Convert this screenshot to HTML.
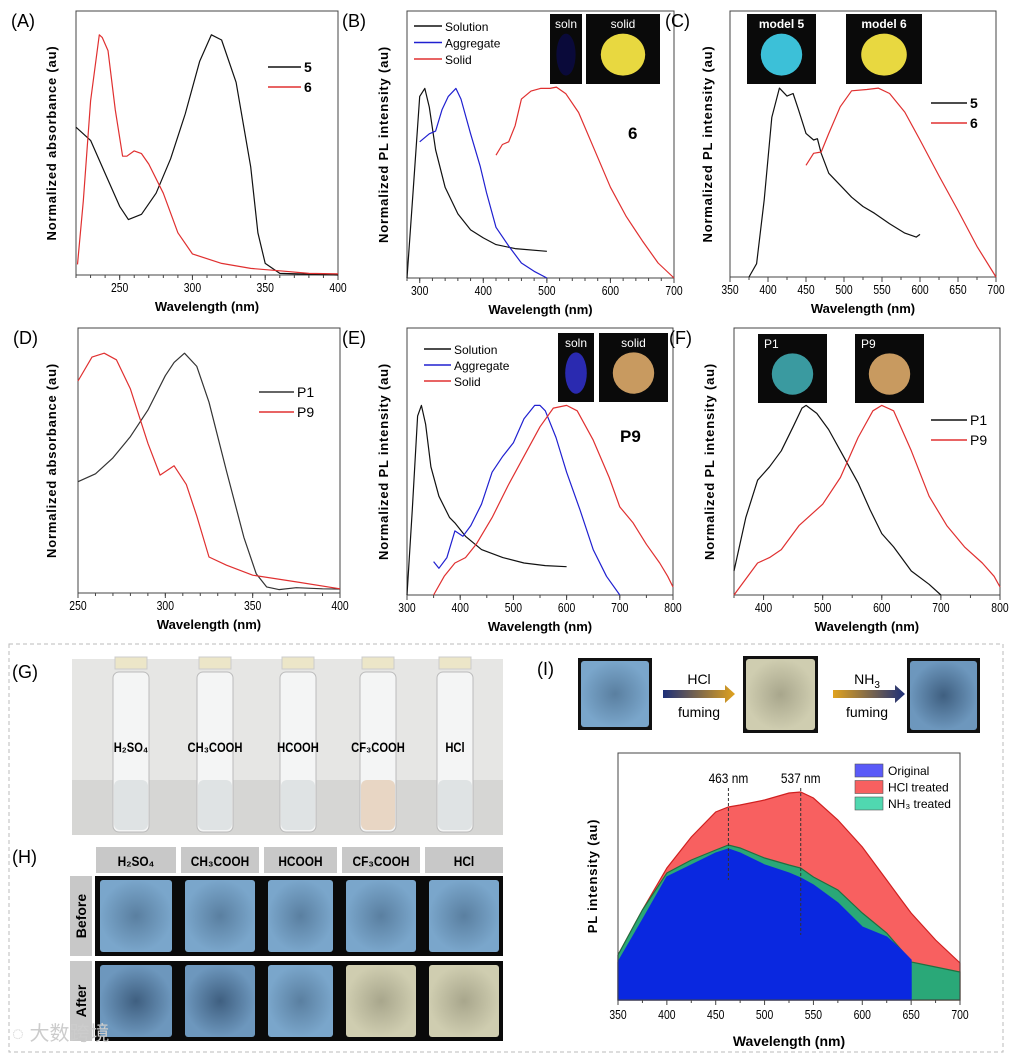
<!DOCTYPE html>
<html><head><meta charset="utf-8"><style>
body{margin:0;background:#fff}
svg{display:block;font-family:"Liberation Sans",sans-serif}
</style></head><body>
<svg id="fig" width="1011" height="1054" viewBox="0 0 1011 1054" xmlns="http://www.w3.org/2000/svg">
<defs>
<linearGradient id="arr1" x1="0" x2="1"><stop offset="0" stop-color="#1d2f78"/><stop offset="1" stop-color="#e0a21e"/></linearGradient>
<linearGradient id="arr2" x1="0" x2="1"><stop offset="0" stop-color="#e0a21e"/><stop offset="1" stop-color="#1d2f78"/></linearGradient>
<radialGradient id="tileBlue"><stop offset="0" stop-color="#5a7fa0"/><stop offset="1" stop-color="#7aa6cb"/></radialGradient>
<radialGradient id="tileYel"><stop offset="0" stop-color="#a8a68c"/><stop offset="1" stop-color="#cfcdb0"/></radialGradient>
<radialGradient id="tileDark"><stop offset="0" stop-color="#3f5f80"/><stop offset="1" stop-color="#6d97bd"/></radialGradient>
</defs>
<g id="charts"></g>
<!-- bottom section -->
<rect x="9" y="644" width="994" height="408" fill="none" stroke="#bbb" stroke-dasharray="4,3"/>
<text x="12" y="678" font-size="18">(G)</text>
<g>
<rect x="72" y="659" width="431" height="176" fill="#e6e6e4"/>
<rect x="72" y="780" width="431" height="55" fill="#d6d6d4"/>
</g>
<g id="vials"></g>
<text x="12" y="863" font-size="18">(H)</text>
<g id="hgrid"></g>
<text x="537" y="675" font-size="18">(I)</text>
<rect x="578" y="658" width="74" height="72" fill="#111"/>
<rect x="581" y="661" width="68" height="66" rx="3" fill="url(#tileBlue)"/>
<rect x="743" y="656" width="75" height="77" fill="#111"/>
<rect x="746" y="659" width="69" height="71" rx="3" fill="url(#tileYel)"/>
<rect x="907" y="658" width="73" height="75" fill="#111"/>
<rect x="910" y="661" width="67" height="69" rx="3" fill="url(#tileDark)"/>
<polygon points="663,690 725,690 725,685 735,694 725,703 725,698 663,698" fill="url(#arr1)"/>
<polygon points="833,690 895,690 895,685 905,694 895,703 895,698 833,698" fill="url(#arr2)"/>
<text x="699" y="684" font-size="14" text-anchor="middle">HCl</text>
<text x="699" y="717" font-size="14" text-anchor="middle">fuming</text>
<text x="867" y="684" font-size="14" text-anchor="middle">NH<tspan font-size="10" dy="4">3</tspan></text>
<text x="867" y="717" font-size="14" text-anchor="middle">fuming</text>
<g id="chartI"></g>
<text x="12" y="1040" font-size="20" fill="#ccc" font-family="'Liberation Sans','Noto Sans CJK SC',sans-serif">◌ 大数跨境</text>
</svg>
<script>
// ---------- data: line charts ----------
const aX5=[220,230,240,250,256,265,275,285,295,305,313,320,330,340,345,350,360,400];
const aY5=[.56,.51,.385,.26,.21,.23,.31,.44,.61,.81,.91,.89,.73,.41,.16,.044,.006,0];
const aX6=[221,225,230,236,238,242,247,252,255,260,265,270,280,290,300,320,340,360,380,400];
const aY6=[.04,.28,.66,.91,.9,.85,.625,.45,.45,.47,.46,.42,.31,.16,.08,.044,.025,.016,.006,.004];
const bXs=[280,290,300,308,315,325,340,360,380,400,420,450,500];
const bYs=[0,.34,.68,.71,.64,.48,.34,.24,.18,.15,.125,.11,.10];
const bXa=[300,315,325,335,345,357,365,380,395,405,420,440,460,480,500];
const bYa=[.51,.54,.55,.63,.68,.71,.67,.54,.42,.32,.19,.12,.056,.025,0];
const bXd=[420,430,440,450,460,475,490,505,515,530,550,575,600,625,650,675,700];
const bYd=[.46,.50,.51,.57,.67,.70,.71,.71,.715,.69,.62,.48,.34,.23,.14,.056,0];
const cX5=[375,385,395,405,415,425,433,440,450,460,465,470,480,500,510,525,540,560,580,595,600];
const cY5=[0,.05,.29,.6,.71,.68,.69,.63,.54,.515,.52,.465,.39,.33,.30,.265,.24,.2,.165,.15,.16];
const cX6=[450,460,470,480,495,510,530,545,560,580,600,625,650,675,700];
const cY6=[.42,.465,.47,.54,.64,.70,.705,.71,.69,.62,.515,.38,.25,.115,0];
const dX1=[250,260,270,280,290,300,305,311,318,325,335,345,352,358,365,375,390,400];
const dY1=[.42,.45,.51,.59,.69,.82,.87,.905,.855,.72,.46,.21,.073,.023,.013,.02,.016,.015];
const dX9=[250,258,265,272,280,290,297,305,312,318,325,335,350,375,400];
const dY9=[.80,.89,.905,.88,.77,.565,.445,.48,.41,.29,.136,.105,.067,.042,.016];
const eXs=[300,310,320,327,335,345,360,380,390,410,440,480,520,560,600];
const eYs=[0,.32,.67,.71,.64,.48,.37,.29,.27,.22,.17,.14,.12,.11,.106];
const eXa=[350,360,375,390,405,420,440,460,480,500,520,540,550,560,580,600,625,650,675,700];
const eYa=[.125,.1,.14,.24,.22,.26,.34,.46,.52,.57,.66,.71,.71,.69,.59,.46,.32,.17,.07,0];
const eXd=[350,370,390,410,430,460,490,520,550,575,600,620,650,680,700,725,750,775,790,800];
const eYd=[0,.07,.12,.14,.19,.29,.41,.52,.63,.70,.71,.69,.58,.44,.33,.27,.19,.12,.07,.03];
const fX1=[350,370,390,410,430,450,465,472,490,510,530,560,580,600,620,650,680,700];
const fY1=[.09,.29,.43,.48,.54,.63,.70,.71,.68,.62,.54,.42,.32,.23,.18,.09,.04,0];
const fX9=[350,370,390,410,430,460,500,530,560,585,600,620,650,680,710,740,770,790,800];
const fY9=[0,.06,.12,.14,.17,.26,.34,.44,.59,.69,.71,.69,.54,.37,.26,.18,.12,.07,.03];
// ---------- data: chart I ----------
const iXred=[350,375,400,425,450,463,475,500,525,537,550,575,600,625,640,650,675,700];
const iYred=[45,90,132,163,188,193,195,200,207,208,202,180,153,120,100,87,60,37];
const iXgreen=[350,375,400,425,450,463,475,500,525,537,550,575,600,625,640,650,675,700];
const iYgreen=[45,90,127,140,150,155,152,142,135,132,123,110,87,67,50,38,33,28];
const iXblue=[350,375,400,425,450,463,475,500,525,537,550,575,600,625,640,650];
const iYblue=[38,80,123,135,147,151,147,135,127,122,115,97,73,63,50,40];
const iTicks=[350,400,450,500,550,600,650,700];
const iPeaks=[463,537];

const NS='http://www.w3.org/2000/svg';
function mk(parent,tag,attrs){const e=document.createElementNS(NS,tag);for(const k in attrs)e.setAttribute(k,attrs[k]);parent.appendChild(e);return e;}
const G=document.getElementById('charts');

function chart(o){
  const g=mk(G,'g',{});
  
  
  const sx=v=>o.x0+(v-o.d0)/(o.d1-o.d0)*(o.x1-o.x0);
  const sy=f=>o.y1-f*(o.y1-o.y0);
  const box=mk(g,'rect',{x:o.x0,y:o.y0,width:o.x1-o.x0,height:o.y1-o.y0,fill:'none',stroke:'#444','stroke-width':1});
  
  
  for(let v=o.d0;v<=o.d1+0.01;v+=o.minor){
    const X=sx(v);mk(g,'line',{x1:X,x2:X,y1:o.y1,y2:o.y1+3,stroke:'#444'});
  }
  o.ticks.forEach(t=>{
    const X=sx(t);mk(g,'line',{x1:X,x2:X,y1:o.y1,y2:o.y1+5,stroke:'#444'});
    const tx=mk(g,'text',{x:X,y:o.y1+17,'font-size':13,'text-anchor':'middle',transform:`translate(${X},0) scale(0.8,1) translate(${-X},0)`});
    tx.textContent=t;
    
    
  });
  const xt=mk(g,'text',{x:(o.x0+o.x1)/2,y:o.y1+36,'font-size':13,'font-weight':'bold','text-anchor':'middle'});
  xt.textContent='Wavelength (nm)';
  
  
  const yc=(o.y0+o.y1)/2;
  const yt=mk(g,'text',{x:o.yx,y:yc,'font-size':13,'font-weight':'bold','text-anchor':'middle','letter-spacing':'0.8',transform:`rotate(-90 ${o.yx} ${yc})`});
  yt.textContent=o.ytitle;
  
  
  const lb=mk(g,'text',{x:o.x0-65,y:o.y0+16,'font-size':18});
  lb.textContent=o.label;
  
  
  o.series.forEach(s=>{
    const d=s.xs.map((x,i)=>(i?'L':'M')+sx(x).toFixed(1)+','+sy(s.ys[i]).toFixed(1)).join('');
    const p=mk(g,'path',{d:d,fill:'none',stroke:s.c,'stroke-width':1.2,'stroke-linejoin':'round'});
    
    
  });
  o.legend.forEach((l,i)=>{
    const y=o.ly+i*o.lstep;
    mk(g,'line',{x1:o.lx,x2:o.lx+o.lw,y1:y,y2:y,stroke:l.c,'stroke-width':1.5});
    const t=mk(g,'text',{x:o.lx+o.lw+3,y:y+5,'font-size':o.lfs,'font-weight':l.b?'bold':'normal'});
    t.textContent=l.t;
    
    
  });
  (o.insets||[]).forEach(r=>{
    const rr=mk(g,'rect',{x:r[0],y:r[1],width:r[2],height:r[3],fill:'#0a0a0a'});
    
    
    if(r[4]){mk(g,'ellipse',{cx:r[0]+r[2]/2,cy:r[1]+r[3]*0.58,rx:r[2]*0.3,ry:r[3]*0.3,fill:r[4]});}
    if(r[5]){const t=mk(g,'text',{x:r[0]+(r[6]||r[2]/2),y:r[1]+14,'font-size':12,'font-weight':r[7]?'bold':'normal',fill:'#fff','text-anchor':r[6]?'start':'middle'});t.textContent=r[5];}
  });
  if(o.tag){const t=mk(g,'text',{x:o.tag[0],y:o.tag[1],'font-size':17,'font-weight':'bold'});t.textContent=o.tag[2];
    
    }
}
const K='#111',R='#e03030',B='#2020d0';
chart({name:'chart-a',label:'(A)',x0:76,x1:338,y0:11,y1:275,d0:220,d1:400,ticks:[250,300,350,400],minor:10,yx:56,ytitle:'Normalized absorbance (au)',
 series:[{n:'5',xs:aX5,ys:aY5,c:K},{n:'6',xs:aX6,ys:aY6,c:R}],legend:[{t:'5',c:K,b:1},{t:'6',c:R,b:1}],lx:268,lw:33,ly:67,lstep:20,lfs:14});
chart({name:'chart-b',label:'(B)',x0:407,x1:674,y0:11,y1:278,d0:280,d1:700,ticks:[300,400,500,600,700],minor:20,yx:388,ytitle:'Normalized PL intensity (au)',
 series:[{n:'solution',xs:bXs,ys:bYs,c:K},{n:'aggregate',xs:bXa,ys:bYa,c:B},{n:'solid',xs:bXd,ys:bYd,c:R}],
 legend:[{t:'Solution',c:K},{t:'Aggregate',c:B},{t:'Solid',c:R}],lx:414,lw:28,ly:26,lstep:16.5,lfs:12,
 insets:[[550,14,32,70,'#0a0a3a','soln'],[586,14,74,70,'#e8d840','solid']],tag:[628,139,'6']});
chart({name:'chart-c',label:'(C)',x0:730,x1:996,y0:11,y1:277,d0:350,d1:700,ticks:[350,400,450,500,550,600,650,700],minor:25,yx:712,ytitle:'Normalized PL intensity (au)',
 series:[{n:'5',xs:cX5,ys:cY5,c:K},{n:'6',xs:cX6,ys:cY6,c:R}],legend:[{t:'5',c:K,b:1},{t:'6',c:R,b:1}],lx:931,lw:36,ly:103,lstep:20,lfs:14,
 insets:[[747,14,69,70,'#3cc0d8','model 5',0,1],[846,14,76,70,'#e8d840','model 6',0,1]]});
chart({name:'chart-d',label:'(D)',x0:78,x1:340,y0:328,y1:593,d0:250,d1:400,ticks:[250,300,350,400],minor:10,yx:56,ytitle:'Normalized absorbance (au)',
 series:[{n:'p1',xs:dX1,ys:dY1,c:'#333'},{n:'p9',xs:dX9,ys:dY9,c:R}],legend:[{t:'P1',c:'#333'},{t:'P9',c:R}],lx:259,lw:35,ly:392,lstep:20,lfs:14});
chart({name:'chart-e',label:'(E)',x0:407,x1:673,y0:328,y1:595,d0:300,d1:800,ticks:[300,400,500,600,700,800],minor:50,yx:388,ytitle:'Normalized PL intensity (au)',
 series:[{n:'solution',xs:eXs,ys:eYs,c:K},{n:'aggregate',xs:eXa,ys:eYa,c:B},{n:'solid',xs:eXd,ys:eYd,c:R}],
 legend:[{t:'Solution',c:K},{t:'Aggregate',c:B},{t:'Solid',c:R}],lx:424,lw:27,ly:349,lstep:16,lfs:12,
 insets:[[558,333,36,69,'#2a2ab0','soln'],[599,333,69,69,'#c89a60','solid']],tag:[620,442,'P9']});
chart({name:'chart-f',label:'(F)',x0:734,x1:1000,y0:328,y1:595,d0:350,d1:800,ticks:[400,500,600,700,800],minor:50,yx:714,ytitle:'Normalized PL intensity (au)',
 series:[{n:'p1',xs:fX1,ys:fY1,c:K},{n:'p9',xs:fX9,ys:fY9,c:R}],legend:[{t:'P1',c:K},{t:'P9',c:R}],lx:931,lw:36,ly:420,lstep:20,lfs:14,
 insets:[[758,334,69,69,'#3a9aa0','P1',6],[855,334,69,69,'#c89a60','P9',6]]});

// ---------- vials ----------
const vialNames=['H₂SO₄','CH₃COOH','HCOOH','CF₃COOH','HCl'];
const vialX=[131,215,298,378,455];
const VG=document.getElementById('vials');
vialNames.forEach((n,i)=>{
  const x=vialX[i];
  const v=mk(VG,'g',{});
  
  
  mk(v,'rect',{x:x-18,y:672,width:36,height:160,rx:6,fill:'#f4f5f5',stroke:'#bbb'});
  mk(v,'rect',{x:x-17,y:780,width:34,height:50,rx:6,fill:i==3?'#e8d6c4':'#dfe3e4'});
  mk(v,'rect',{x:x-16,y:657,width:32,height:12,fill:'#ece6c8',stroke:'#ccc'});
  const t=mk(v,'text',{x:x,y:752,'font-size':14,'font-weight':'bold','text-anchor':'middle',transform:`translate(${x},0) scale(0.8,1) translate(${-x},0)`});
  t.textContent=n;
});
// ---------- H grid ----------
const HG=document.getElementById('hgrid');
const hX=[96,181,264,342,425],hW=[80,78,73,78,78];
vialNames.forEach((n,i)=>{
  const c=mk(HG,'rect',{x:hX[i],y:847,width:hW[i],height:26,fill:'#c8c8c8'});
  
  
  const cx=hX[i]+hW[i]/2;
  const t=mk(HG,'text',{x:cx,y:866,'font-size':14,'font-weight':'bold','text-anchor':'middle',transform:`translate(${cx},0) scale(0.85,1) translate(${-cx},0)`});
  t.textContent=n;
});
[['Before',876,956],['After',961,1041]].forEach((r,j)=>{
  mk(HG,'rect',{x:70,y:r[1],width:22,height:r[2]-r[1],fill:'#c8c8c8'});
  const cy=(r[1]+r[2])/2;
  const t=mk(HG,'text',{x:86,y:cy,'font-size':14,'font-weight':'bold','text-anchor':'middle',transform:`rotate(-90 86 ${cy})`});
  t.textContent=r[0];
  
  
  mk(HG,'rect',{x:95,y:r[1],width:408,height:r[2]-r[1],fill:'#0a0a0a'});
  hX.forEach((x,i)=>{
    const fill=(j==1&&i>=3)?'url(#tileYel)':(j==1&&i<2?'url(#tileDark)':'url(#tileBlue)');
    const tl=mk(HG,'rect',{x:x+4,y:r[1]+4,width:hW[i]-8,height:r[2]-r[1]-8,rx:3,fill:fill});
    
    
  });
});
// ---------- chart I ----------
(function(){
  const g=document.getElementById('chartI');
  const x0=618,x1=960,y0=753,y1=1000;
  const sx=v=>x0+(v-350)/350*(x1-x0);
  const sy=v=>y1-v;
  function area(xs,ys,fill,stroke,name){
    let d='M'+sx(xs[0])+','+y1;
    xs.forEach((x,i)=>d+='L'+sx(x).toFixed(1)+','+sy(ys[i]).toFixed(1));
    d+='L'+sx(xs[xs.length-1])+','+y1+'Z';
    const p=mk(g,'path',{d:d,fill:fill,stroke:stroke,'stroke-width':1.2});
    
    
  }
  area(iXred,iYred,'#f86060','#d02020','area-hcl-treated');
  area(iXgreen,iYgreen,'#2aa878','#207040','area-nh3-treated');
  area(iXblue,iYblue,'#0a28e0','#0a28e0','area-original');
  mk(g,'rect',{x:x0,y:y0,width:x1-x0,height:y1-y0,fill:'none',stroke:'#444'});
  for(let v=350;v<=700;v+=25){const X=sx(v);mk(g,'line',{x1:X,x2:X,y1:y1,y2:y1+(v%50?3:5),stroke:'#444'});}
  iTicks.forEach(t=>{const X=sx(t);const tx=mk(g,'text',{x:X,y:1019,'font-size':13,'text-anchor':'middle',transform:`translate(${X},0) scale(0.8,1) translate(${-X},0)`});tx.textContent=t;
    
    });
  const xt=mk(g,'text',{x:789,y:1046,'font-size':14,'font-weight':'bold','text-anchor':'middle'});xt.textContent='Wavelength (nm)';
  
  
  const yt=mk(g,'text',{x:597,y:876,'font-size':13,'font-weight':'bold','text-anchor':'middle','letter-spacing':'0.8',transform:'rotate(-90 597 876)'});yt.textContent='PL intensity (au)';
  
  
  iPeaks.forEach((p,i)=>{const X=sx(p);mk(g,'line',{x1:X,x2:X,y1:788,y2:i?935:880,stroke:'#333','stroke-dasharray':'3,2'});
    const t=mk(g,'text',{x:X,y:783,'font-size':14,'text-anchor':'middle',transform:`translate(${X},0) scale(0.85,1) translate(${-X},0)`});t.textContent=p+' nm';
    
    });
  [['Original','#5a5af8'],['HCl treated','#f86060'],['NH₃ treated','#50d8b0']].forEach((l,i)=>{
    const y=770+i*16.5;
    mk(g,'rect',{x:855,y:y-6,width:28,height:13,fill:l[1],stroke:'#555','stroke-width':0.6});
    const t=mk(g,'text',{x:888,y:y+5,'font-size':12});t.textContent=l[0];
    
    
  });
})();
</script>
</body></html>
